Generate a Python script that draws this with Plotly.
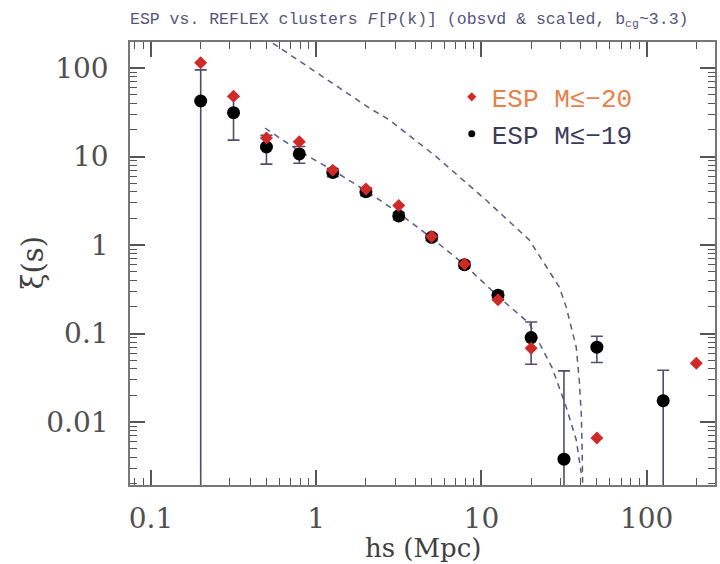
import plotly.graph_objects as go

# ESP M<=-20 (red diamonds)
r_x = [0.2, 0.316, 0.5, 0.79, 1.26, 2.0, 3.16, 5.0, 7.9, 12.6, 20.0, 50.0, 200.0]
r_y = [115, 48, 16.2, 14.7, 7.0, 4.3, 2.8, 1.25, 0.61, 0.24, 0.068, 0.0066, 0.046]

# ESP M<=-19 (black circles with error bars)
b_x = [0.2, 0.316, 0.5, 0.79, 1.26, 2.0, 3.16, 5.0, 7.9, 12.6, 20.0, 31.6, 50.0, 126.0]
b_y = [42.4, 31.3, 12.8, 10.7, 6.6, 4.0, 2.13, 1.22, 0.6, 0.27, 0.09, 0.0038, 0.07, 0.0174]
b_err = [53, 16, 4.6, 2.3, 0.7, 0.4, 0.2, 0.1, 0.05, 0.03, 0.045, 0.034, 0.023, 0.021]

# REFLEX model curves (observed, and scaled by b^2)
m_obs_x = [0.5, 0.546, 2.1, 2.78, 5.35, 10.7, 19.5, 29.6, 32.6, 37.5, 39.1, 40.2, 40.7, 41.0]
m_obs_y = [240, 191, 35.3, 25.8, 9.9, 3.2, 1.14, 0.335, 0.20, 0.070, 0.030, 0.0126, 0.0052, 0.002]
m_scl_x = [0.49, 0.79, 1.26, 2.0, 3.16, 5.0, 7.9, 9.7, 12.7, 19.5, 26.8, 32.6, 37.5, 40.2]
m_scl_y = [21, 11.5, 7.0, 4.1, 2.3, 1.2, 0.6, 0.42, 0.26, 0.13, 0.041, 0.0148, 0.0063, 0.00265]

# ticks
x_major = [0.1, 1, 10, 100]
x_major_text = ["0.1", "1", "10", "100"]
x_minor = [0.08, 0.09, 0.2, 0.3, 0.4, 0.5, 0.6, 0.7, 0.8, 0.9,
           2, 3, 4, 5, 6, 7, 8, 9, 20, 30, 40, 50, 60, 70, 80, 90, 200]
y_major = [0.01, 0.1, 1, 10, 100]
y_major_text = ["0.01", "0.1", "1", "10", "100"]
y_minor = [0.002, 0.003, 0.004, 0.005, 0.006, 0.007, 0.008, 0.009,
           0.02, 0.03, 0.04, 0.05, 0.06, 0.07, 0.08, 0.09,
           0.2, 0.3, 0.4, 0.5, 0.6, 0.7, 0.8, 0.9,
           2, 3, 4, 5, 6, 7, 8, 9, 20, 30, 40, 50, 60, 70, 80, 90]

x_range = [-1.127, 2.414]
y_range = [-2.712, 2.294]

line_col = "#5a5a82"
axis_col = "#777777"
tick_col = "#555555"
label_font = dict(family="DejaVu Serif", size=28, color="#505050")
title_font = dict(family="DejaVu Serif", size=26, color="#404040")

fig = go.Figure()

for mx, my in [(m_obs_x, m_obs_y), (m_scl_x, m_scl_y)]:
    fig.add_trace(go.Scatter(x=mx, y=my, mode="lines", showlegend=False,
                             line=dict(color=line_col, width=1.5, dash="6px,5px")))

fig.add_trace(go.Scatter(
    x=b_x, y=b_y, mode="markers", showlegend=False,
    marker=dict(symbol="circle", size=13, color="#000000"),
    error_y=dict(type="data", array=b_err, visible=True, color="#4e4e70",
                 thickness=1.6, width=6)))

fig.add_trace(go.Scatter(
    x=r_x, y=r_y, mode="markers", showlegend=False,
    marker=dict(symbol="diamond", size=10, color="#d02a28")))

# legend entries
fig.add_trace(go.Scatter(x=[None], y=[None], mode="markers",
                         name="<span style='color:#e8804a'>ESP M≤−20</span>",
                         marker=dict(symbol="diamond", size=7, color="#d02a28")))
fig.add_trace(go.Scatter(x=[None], y=[None], mode="markers",
                         name="<span style='color:#3c3c5a'>ESP M≤−19</span>",
                         marker=dict(symbol="circle", size=7, color="#000000")))

# invisible trace on the minor-tick axes so they are drawn
fig.add_trace(go.Scatter(x=[None], y=[None], xaxis="x2", yaxis="y2",
                         showlegend=False, hoverinfo="skip"))

base = dict(type="log", showgrid=False, zeroline=False, automargin=False,
            ticks="inside", tickcolor=tick_col, mirror="allticks", layer="above traces")

fig.update_layout(
    width=720, height=564,
    margin=dict(l=130, r=5, t=42, b=79),
    paper_bgcolor="white", plot_bgcolor="white",
    title=dict(text="ESP vs. REFLEX clusters <i>F</i>[P(k)] (obsvd &amp; scaled, b<sub>cg</sub>~3.3)",
               font=dict(family="Liberation Mono", size=16.5, color="#55557c"),
               x=130 / 720, xanchor="left", y=1 - 18 / 564, yanchor="middle"),
    xaxis=dict(base, range=x_range, tickvals=x_major, ticktext=x_major_text,
               ticklen=15, tickwidth=1.5, showline=True, linecolor=axis_col,
               linewidth=1.5, tickfont=label_font, ticklabelstandoff=8),
    yaxis=dict(base, range=y_range, tickvals=y_major, ticktext=y_major_text,
               ticklen=15, tickwidth=1.5, showline=True, linecolor=axis_col,
               linewidth=1.5, tickfont=label_font, ticklabelstandoff=14),
    xaxis2=dict(base, range=x_range, tickvals=x_minor, ticklen=7, tickwidth=1.3,
                showticklabels=False, overlaying="x", anchor="y2", showline=False),
    yaxis2=dict(base, range=y_range, tickvals=y_minor, ticklen=7, tickwidth=1.3,
                showticklabels=False, overlaying="y", anchor="x2", showline=False),
    legend=dict(x=0.55, y=0.929, xanchor="left", yanchor="top",
                bgcolor="rgba(0,0,0,0)", itemwidth=30,
                font=dict(family="Liberation Mono", size=26, color="#3c3c5a"),
                tracegroupgap=0),
    annotations=[
        dict(text="hs (Mpc)", xref="paper", yref="paper", x=0.5, y=-0.143,
             xanchor="center", yanchor="middle", showarrow=False, font=title_font),
        dict(text="ξ(s)", xref="paper", yref="paper", x=-0.1675, y=0.5,
             xanchor="center", yanchor="middle", showarrow=False, textangle=-90,
             font=dict(family="DejaVu Serif", size=29, color="#404040")),
    ],
)

fig.write_html("out.html", config={"displayModeBar": False},
               post_script="document.body.style.margin='0';")
